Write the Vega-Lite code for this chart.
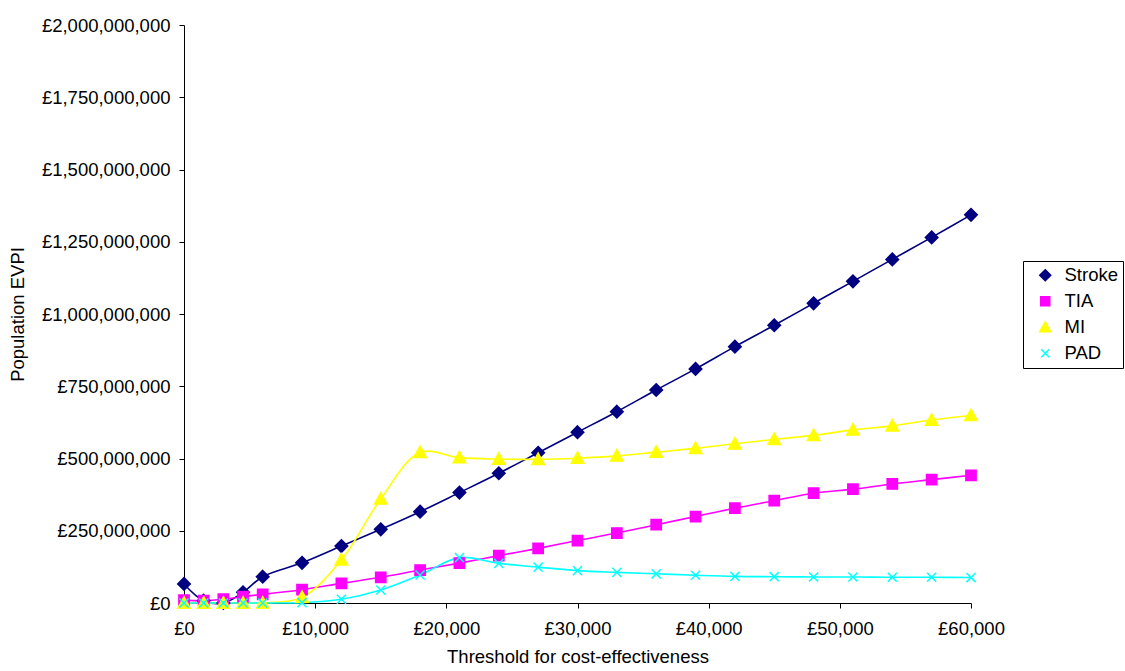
{
  "$schema": "https://vega.github.io/schema/vega-lite/v6.json",
  "width": 787,
  "height": 578,
  "autosize": {"type": "none"},
  "padding": {"left": 184, "top": 25, "right": 154, "bottom": 68},
  "background": "white",
  "config": {
    "view": {"stroke": null},
    "font": "Liberation Sans",
    "axis": {"labelFont": "Liberation Sans", "titleFont": "Liberation Sans", "labelFontSize": 18.5, "titleFontSize": 18.5, "titleFontWeight": "normal", "labelColor": "black", "titleColor": "black", "domainColor": "black", "tickColor": "black", "grid": false, "tickSize": 5},
    "legend": {"labelFont": "Liberation Sans", "labelFontSize": 18.5, "labelColor": "black"}
  },
  "data": {"values": [
    {"t": 0, "s": "Stroke", "v": 66}, {"t": 1500, "s": "Stroke", "v": 8}, {"t": 3000, "s": "Stroke", "v": 0}, {"t": 4500, "s": "Stroke", "v": 37}, {"t": 6000, "s": "Stroke", "v": 91}, {"t": 9000, "s": "Stroke", "v": 139}, {"t": 12000, "s": "Stroke", "v": 197}, {"t": 15000, "s": "Stroke", "v": 255}, {"t": 18000, "s": "Stroke", "v": 316}, {"t": 21000, "s": "Stroke", "v": 382}, {"t": 24000, "s": "Stroke", "v": 449}, {"t": 27000, "s": "Stroke", "v": 520}, {"t": 30000, "s": "Stroke", "v": 591}, {"t": 33000, "s": "Stroke", "v": 662}, {"t": 36000, "s": "Stroke", "v": 737}, {"t": 39000, "s": "Stroke", "v": 810}, {"t": 42000, "s": "Stroke", "v": 887}, {"t": 45000, "s": "Stroke", "v": 961}, {"t": 48000, "s": "Stroke", "v": 1037}, {"t": 51000, "s": "Stroke", "v": 1113}, {"t": 54000, "s": "Stroke", "v": 1189}, {"t": 57000, "s": "Stroke", "v": 1265}, {"t": 60000, "s": "Stroke", "v": 1343},
    {"t": 0, "s": "TIA", "v": 10}, {"t": 1500, "s": "TIA", "v": 8}, {"t": 3000, "s": "TIA", "v": 13}, {"t": 4500, "s": "TIA", "v": 22}, {"t": 6000, "s": "TIA", "v": 30}, {"t": 9000, "s": "TIA", "v": 46}, {"t": 12000, "s": "TIA", "v": 68}, {"t": 15000, "s": "TIA", "v": 89}, {"t": 18000, "s": "TIA", "v": 114}, {"t": 21000, "s": "TIA", "v": 138}, {"t": 24000, "s": "TIA", "v": 164}, {"t": 27000, "s": "TIA", "v": 189}, {"t": 30000, "s": "TIA", "v": 216}, {"t": 33000, "s": "TIA", "v": 242}, {"t": 36000, "s": "TIA", "v": 271}, {"t": 39000, "s": "TIA", "v": 299}, {"t": 42000, "s": "TIA", "v": 328}, {"t": 45000, "s": "TIA", "v": 354}, {"t": 48000, "s": "TIA", "v": 380}, {"t": 51000, "s": "TIA", "v": 394}, {"t": 54000, "s": "TIA", "v": 412}, {"t": 57000, "s": "TIA", "v": 427}, {"t": 60000, "s": "TIA", "v": 442},
    {"t": 0, "s": "MI", "v": 0}, {"t": 1500, "s": "MI", "v": 0}, {"t": 3000, "s": "MI", "v": 0}, {"t": 4500, "s": "MI", "v": 0}, {"t": 6000, "s": "MI", "v": 0}, {"t": 9000, "s": "MI", "v": 20}, {"t": 12000, "s": "MI", "v": 149}, {"t": 15000, "s": "MI", "v": 360}, {"t": 18000, "s": "MI", "v": 521}, {"t": 21000, "s": "MI", "v": 503}, {"t": 24000, "s": "MI", "v": 498}, {"t": 27000, "s": "MI", "v": 497}, {"t": 30000, "s": "MI", "v": 501}, {"t": 33000, "s": "MI", "v": 509}, {"t": 36000, "s": "MI", "v": 522}, {"t": 39000, "s": "MI", "v": 535}, {"t": 42000, "s": "MI", "v": 551}, {"t": 45000, "s": "MI", "v": 566}, {"t": 48000, "s": "MI", "v": 580}, {"t": 51000, "s": "MI", "v": 599}, {"t": 54000, "s": "MI", "v": 613}, {"t": 57000, "s": "MI", "v": 633}, {"t": 60000, "s": "MI", "v": 649},
    {"t": 0, "s": "PAD", "v": 0}, {"t": 1500, "s": "PAD", "v": 0}, {"t": 3000, "s": "PAD", "v": 0}, {"t": 4500, "s": "PAD", "v": 0}, {"t": 6000, "s": "PAD", "v": 0}, {"t": 9000, "s": "PAD", "v": 1}, {"t": 12000, "s": "PAD", "v": 13}, {"t": 15000, "s": "PAD", "v": 45}, {"t": 18000, "s": "PAD", "v": 97}, {"t": 21000, "s": "PAD", "v": 157}, {"t": 24000, "s": "PAD", "v": 137}, {"t": 27000, "s": "PAD", "v": 124}, {"t": 30000, "s": "PAD", "v": 112}, {"t": 33000, "s": "PAD", "v": 106}, {"t": 36000, "s": "PAD", "v": 101}, {"t": 39000, "s": "PAD", "v": 96}, {"t": 42000, "s": "PAD", "v": 92}, {"t": 45000, "s": "PAD", "v": 91}, {"t": 48000, "s": "PAD", "v": 90}, {"t": 51000, "s": "PAD", "v": 90}, {"t": 54000, "s": "PAD", "v": 89}, {"t": 57000, "s": "PAD", "v": 89}, {"t": 60000, "s": "PAD", "v": 88}
  ]},
  "encoding": {
    "x": {"field": "t", "type": "quantitative", "scale": {"domain": [0, 60000], "nice": false, "zero": false},
      "axis": {"title": "Threshold for cost-effectiveness", "values": [0, 10000, 20000, 30000, 40000, 50000, 60000], "labelExpr": "'£' + format(datum.value, ',.0f')", "labelPadding": 11, "titlePadding": 10, "labelFlush": false}},
    "y": {"field": "v", "type": "quantitative", "scale": {"domain": [0, 2000], "nice": false},
      "axis": {"title": "Population EVPI", "values": [0, 250, 500, 750, 1000, 1250, 1500, 1750, 2000], "labelExpr": "'£' + format(datum.value * 1000000, ',.0f')", "labelPadding": 9, "titlePadding": 14}}
  },
  "layer": [
    {
      "mark": {"type": "line", "interpolate": "catmull-rom", "strokeWidth": 1.6},
      "encoding": {
        "stroke": {"field": "s", "type": "nominal", "scale": {"domain": ["Stroke", "TIA", "MI", "PAD"], "range": ["#000080", "#FF00FF", "#FFFF00", "#00FFFF"]}, "title": null},
        "order": {"field": "t"}
      }
    },
    {
      "mark": {"type": "point", "filled": true, "opacity": 1, "strokeWidth": 1.5},
      "encoding": {
        "fill": {"field": "s", "type": "nominal", "scale": {"domain": ["Stroke", "TIA", "MI", "PAD"], "range": ["#000080", "#FF00FF", "#FFFF00", "transparent"]}, "title": null},
        "stroke": {"field": "s", "type": "nominal", "title": null,
          "legend": {"orient": "none", "legendX": 839, "legendY": 236, "strokeColor": "black", "padding": 5, "symbolOffset": 8, "labelOffset": 10, "rowPadding": 7, "symbolSize": 100, "symbolStrokeWidth": 1.5}},
        "shape": {"field": "s", "type": "nominal", "scale": {"domain": ["Stroke", "TIA", "MI", "PAD"], "range": ["M0,-1.1L1.1,0L0,1.1L-1.1,0Z", "M-0.9,-0.9L0.9,-0.9L0.9,0.9L-0.9,0.9Z", "M0,-1.1L1.1,0.9L-1.1,0.9Z", "M-0.8,-0.8L0.8,0.8M-0.8,0.8L0.8,-0.8"]}, "title": null},
        "size": {"value": 130}
      }
    }
  ]
}
